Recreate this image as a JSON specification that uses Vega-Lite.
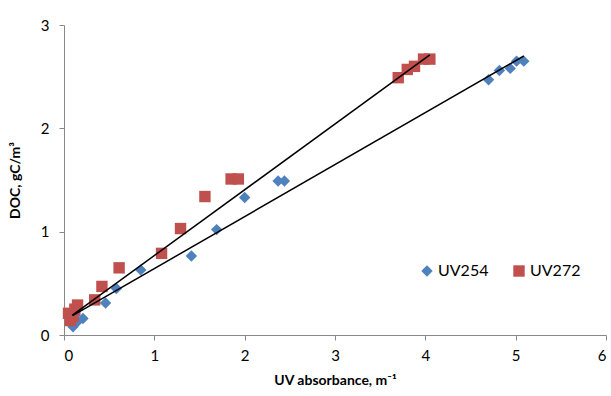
{
  "$schema": "https://vega.github.io/schema/vega-lite/v6.json",
  "width": 542,
  "height": 310,
  "autosize": "none",
  "padding": {"left": 64, "top": 25, "right": 5, "bottom": 61},
  "background": "white",
  "config": {
    "view": {"stroke": null},
    "font": "Lato",
    "axis": {"grid": false, "domainColor": "#888888", "tickColor": "#888888", "labelFont": "Lato", "labelFontSize": 15, "labelColor": "#000000", "titleFont": "Lato", "titleFontSize": 14, "titleFontWeight": "bold", "titleColor": "#000000", "tickSize": 5, "format": "d"}
  },
  "datasets": {
    "pts": [
      {"series": "UV254", "uv": 0.1, "doc": 0.08},
      {"series": "UV254", "uv": 0.14, "doc": 0.12},
      {"series": "UV254", "uv": 0.21, "doc": 0.16},
      {"series": "UV254", "uv": 0.12, "doc": 0.19},
      {"series": "UV254", "uv": 0.46, "doc": 0.31},
      {"series": "UV254", "uv": 0.58, "doc": 0.45},
      {"series": "UV254", "uv": 0.85, "doc": 0.63},
      {"series": "UV254", "uv": 1.41, "doc": 0.765},
      {"series": "UV254", "uv": 1.69, "doc": 1.02},
      {"series": "UV254", "uv": 2.0, "doc": 1.33},
      {"series": "UV254", "uv": 2.37, "doc": 1.49},
      {"series": "UV254", "uv": 2.44, "doc": 1.49},
      {"series": "UV254", "uv": 4.7, "doc": 2.47},
      {"series": "UV254", "uv": 4.82, "doc": 2.56},
      {"series": "UV254", "uv": 4.94, "doc": 2.58},
      {"series": "UV254", "uv": 5.01, "doc": 2.65},
      {"series": "UV254", "uv": 5.09, "doc": 2.65},
      {"series": "UV272", "uv": 0.05, "doc": 0.21},
      {"series": "UV272", "uv": 0.07, "doc": 0.14},
      {"series": "UV272", "uv": 0.1, "doc": 0.18},
      {"series": "UV272", "uv": 0.12, "doc": 0.25},
      {"series": "UV272", "uv": 0.15, "doc": 0.29},
      {"series": "UV272", "uv": 0.34, "doc": 0.34},
      {"series": "UV272", "uv": 0.42, "doc": 0.47},
      {"series": "UV272", "uv": 0.61, "doc": 0.65},
      {"series": "UV272", "uv": 1.08, "doc": 0.79},
      {"series": "UV272", "uv": 1.29, "doc": 1.03},
      {"series": "UV272", "uv": 1.56, "doc": 1.34},
      {"series": "UV272", "uv": 1.85, "doc": 1.51},
      {"series": "UV272", "uv": 1.93, "doc": 1.51},
      {"series": "UV272", "uv": 3.7, "doc": 2.49},
      {"series": "UV272", "uv": 3.8, "doc": 2.57},
      {"series": "UV272", "uv": 3.88, "doc": 2.6},
      {"series": "UV272", "uv": 3.98, "doc": 2.67},
      {"series": "UV272", "uv": 4.05, "doc": 2.67}
    ],
    "trend": [
      {"series": "UV254", "uv": 0.1, "doc": 0.19},
      {"series": "UV254", "uv": 5.09, "doc": 2.70},
      {"series": "UV272", "uv": 0.09, "doc": 0.19},
      {"series": "UV272", "uv": 4.05, "doc": 2.71}
    ]
  },
  "layer": [
    {
      "data": {"name": "pts"},
      "mark": {"type": "point", "filled": true, "opacity": 1, "size": 130},
      "encoding": {
        "x": {"field": "uv", "type": "quantitative", "scale": {"domain": [0, 6], "nice": false, "zero": true}, "axis": {"title": "UV absorbance, m⁻¹", "values": [0, 1, 2, 3, 4, 5, 6], "format": "d", "labelPadding": 8, "titlePadding": 10}},
        "y": {"field": "doc", "type": "quantitative", "scale": {"domain": [0, 3], "nice": false}, "axis": {"title": "DOC, gC/m³", "values": [0, 1, 2, 3], "format": "d", "labelPadding": 10, "titlePadding": 18}},
        "color": {"field": "series", "type": "nominal", "scale": {"domain": ["UV254", "UV272"], "range": ["#4F81BD", "#C0504D"]}, "legend": {"title": null, "orient": "none", "legendX": 355, "legendY": 238, "direction": "horizontal", "labelFontSize": 16, "labelFont": "Lato", "columnPadding": 22, "symbolSize": 130, "labelOffset": 3}},
        "shape": {"field": "series", "type": "nominal", "scale": {"domain": ["UV254", "UV272"], "range": ["diamond", "square"]}, "legend": null}
      }
    },
    {
      "data": {"name": "trend"},
      "mark": {"type": "line", "color": "#000000", "strokeWidth": 1.5},
      "encoding": {
        "x": {"field": "uv", "type": "quantitative"},
        "y": {"field": "doc", "type": "quantitative"},
        "detail": {"field": "series"}
      }
    }
  ]
}
